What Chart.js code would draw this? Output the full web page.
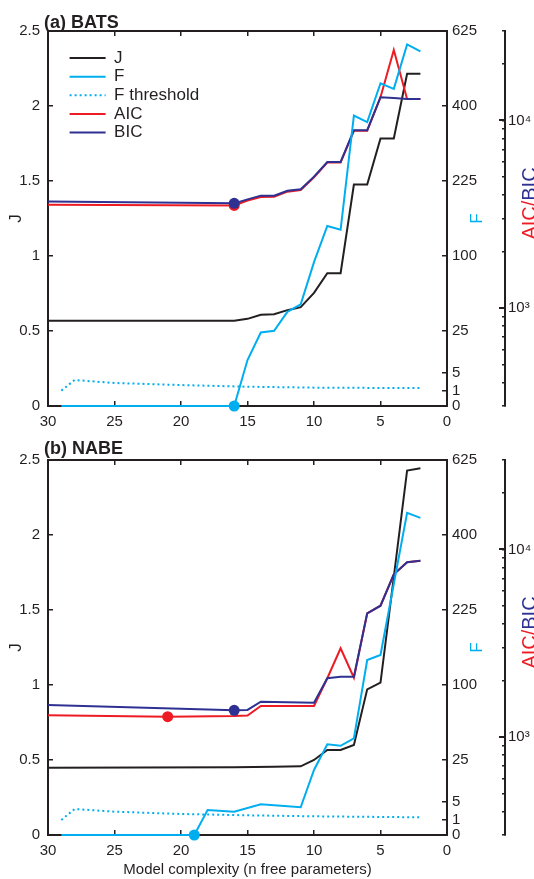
<!DOCTYPE html>
<html>
<head>
<meta charset="utf-8">
<script src="https://cdn.jsdelivr.net/npm/chart.js@4.4.1/dist/chart.umd.min.js"></script>
<style>
  body { margin: 0; background: #fff; }
  .panel { position: relative; width: 534px; }
  #wrapA { height: 430px; }
  #wrapB { height: 449px; }
</style>
</head>
<body>
<div class="panel" id="wrapA"><canvas id="chartA"></canvas></div>
<div class="panel" id="wrapB"><canvas id="chartB"></canvas></div>
<script>
const INK = '#231f20'
const CYAN = '#00aeef'
const RED = '#ed1c24'
const NAVY = '#2e3192'
const FONT = "'Liberation Sans', Arial, sans-serif"

// (a) BATS - model complexity n and values
const nJA = [30, 16, 15, 14, 13, 12, 11, 10, 9, 8, 7, 6, 5, 4, 3, 2]
const jA = [0.568, 0.568, 0.581, 0.608, 0.612, 0.639, 0.659, 0.754, 0.885, 0.885, 1.476, 1.476, 1.784, 1.784, 2.215, 2.215]
const nFA = [29, 16, 15, 14, 13, 12, 11, 10, 9, 8, 7, 6, 5, 4, 3, 2]
const fA = [0, 0, 9.4, 24, 25.1, 39.4, 45.9, 92, 144, 138, 375, 358, 463, 447, 581, 559]
const nThA = [29, 28, 25, 20, 15, 10, 5, 2]
const thA = [1.05, 3.0, 2.35, 1.95, 1.65, 1.5, 1.45, 1.43]
const nAicA = [30, 16, 15, 14, 13, 12, 11, 10, 9, 8, 7, 6, 5, 4, 3, 2]
const aicA = [3557, 3522, 3740, 3910, 3920, 4170, 4250, 4980, 5960, 5960, 8800, 8800, 13300, 23770, 13020, 13020]
const nBicA = [30, 16, 15, 14, 13, 12, 11, 10, 9, 8, 7, 6, 5, 4, 3, 2]
const bicA = [3700, 3614, 3796, 3972, 3972, 4218, 4295, 5015, 6004, 6004, 8870, 8870, 13300, 13180, 13020, 13020]

// (b) NABE
const nJB = [30, 16, 13, 11, 10, 9, 8, 7, 6, 5, 4, 3, 2]
const jB = [0.449, 0.451, 0.455, 0.458, 0.5, 0.567, 0.567, 0.6, 0.971, 1.016, 1.72, 2.43, 2.445]
const nFB = [29, 19, 18, 16, 14, 11, 10, 9, 8, 7, 6, 5, 4, 3, 2]
const fB = [0, 0, 2.78, 2.42, 4.19, 3.41, 18.8, 36.6, 35.4, 41.5, 136, 144, 280, 461, 447]
const nThB = [29, 28, 25, 20, 15, 10, 5, 2]
const thB = [1.0, 3.0, 2.42, 1.96, 1.72, 1.55, 1.45, 1.39]
const nAicB = [30, 21, 16, 15, 14, 10, 9, 8, 7, 6, 5, 4, 3, 2]
const aicB = [1304, 1283, 1292, 1300, 1462, 1462, 2056, 2971, 2070, 4565, 5010, 7370, 8540, 8710]
const nBicB = [30, 16, 15, 14, 10, 9, 8, 7, 6, 5, 4, 3, 2]
const bicB = [1479, 1387, 1393, 1542, 1524, 2056, 2097, 2097, 4565, 5010, 7370, 8540, 8710]

// marked minima (n)
const marksA = { f: 16, aic: 16, bic: 16 }
const marksB = { f: 19, aic: 21, bic: 16 }

// tick values
const fTicks = [0, 1, 5, 25, 100, 225, 400, 625]
const aicTicks = [300, 400, 500, 600, 700, 800, 900, 1000, 2000, 3000, 4000, 5000, 6000, 7000, 8000, 9000, 10000, 20000, 30000]
const aicLabels = { 1000: '10³', 10000: '10⁴' }

// square-root axis for F
class SqrtScale extends Chart.LinearScale {
  configure() {
    super.configure()
    this._startValue = Math.sqrt(this.min)
    this._valueRange = Math.sqrt(this.max) - Math.sqrt(this.min)
  }
  getPixelForValue(value) {
    if (value === null) return NaN
    return this.getPixelForDecimal((Math.sqrt(value) - this._startValue) / this._valueRange)
  }
  getValueForPixel(pixel) {
    const s = this._startValue + this.getDecimalForPixel(pixel) * this._valueRange
    return s * s
  }
}
SqrtScale.id = 'sqrt'
SqrtScale.defaults = Chart.LinearScale.defaults
Chart.register(SqrtScale)

const pts = (xs, ys) => xs.map((x, i) => ({ x, y: ys[i] }))
const dots = (xs, at) => xs.map(x => x === at ? 5.5 : 0)

function rotatedText(ctx, parts, x, y) {
  ctx.save()
  ctx.translate(x, y)
  ctx.rotate(-Math.PI / 2)
  ctx.textBaseline = 'middle'
  ctx.textAlign = 'left'
  const total = parts.reduce((w, p) => w + ctx.measureText(p[0]).width, 0)
  let cx = -total / 2
  parts.forEach(p => {
    ctx.fillStyle = p[1]
    ctx.fillText(p[0], cx, 0)
    cx += ctx.measureText(p[0]).width
  })
  ctx.restore()
}

const panelText = {
  id: 'panelText',
  afterLayout(chart) {
    // move the legend inside the plot, below the top axis
    if (chart.legend && chart.options.plugins.legend.display) {
      chart.legend.left += 20
      chart.legend.top += 48
    }
  },
  afterDraw(chart, args, opts) {
    const { ctx, chartArea: a } = chart
    const yF = chart.scales.yF
    const yA = chart.scales.yA
    const mid = (a.top + a.bottom) / 2
    ctx.save()
    ctx.font = `bold 18px ${FONT}`
    ctx.fillStyle = INK
    ctx.textAlign = 'left'
    ctx.textBaseline = 'alphabetic'
    ctx.fillText(opts.title, 44, opts.titleY)

    ctx.font = `17px ${FONT}`
    rotatedText(ctx, [['J', INK]], 16, mid)
    rotatedText(ctx, [['F', CYAN]], yF.left + 30, mid)
    ctx.font = `20px ${FONT}`
    rotatedText(ctx, [['AIC/', RED], ['BIC', NAVY]], 530, mid - 15)

    // longer major ticks on the AIC/BIC axis
    ctx.strokeStyle = INK
    ctx.lineWidth = 2
    yA.ticks.forEach(t => {
      if (!aicLabels[t.value]) return
      const py = Math.round(yA.getPixelForValue(t.value))
      ctx.beginPath()
      ctx.moveTo(yA.left - 6, py)
      ctx.lineTo(yA.left, py)
      ctx.stroke()
    })
    ctx.restore()
  }
}

function makeDatasets(nJ, j, nF, f, nTh, th, nAic, aic, nBic, bic, marks) {
  return [
    { label: 'J', data: pts(nJ, j), yAxisID: 'y', borderColor: INK, order: 3 },
    { label: 'F', data: pts(nF, f), yAxisID: 'yF', borderColor: CYAN,
      pointRadius: dots(nF, marks.f), pointBackgroundColor: CYAN, order: 0 },
    { label: 'F threshold', data: pts(nTh, th), yAxisID: 'yF', borderColor: CYAN,
      borderDash: [2, 3], order: 0 },
    { label: 'AIC', data: pts(nAic, aic), yAxisID: 'yA', borderColor: RED,
      pointRadius: dots(nAic, marks.aic), pointBackgroundColor: RED, order: 2 },
    { label: 'BIC', data: pts(nBic, bic), yAxisID: 'yA', borderColor: NAVY,
      pointRadius: dots(nBic, marks.bic), pointBackgroundColor: NAVY, order: 1 }
  ]
}

function legendLabels(chart) {
  const items = Chart.defaults.plugins.legend.labels.generateLabels(chart)
  return items.map(item => {
    const ds = chart.data.datasets[item.datasetIndex]
    item.strokeStyle = ds.borderColor
    item.lineWidth = 2
    item.lineDash = ds.borderDash || []
    return item
  })
}

const tickFont = { family: FONT, size: 15 }
const axisGrid = (len) => ({ drawOnChartArea: false, tickLength: len, color: INK, lineWidth: 1.5 })
const axisBorder = { color: INK, width: 2 }

function makeOptions(top, bottom, showLegend, title, titleY, xTitle) {
  return {
    responsive: true,
    maintainAspectRatio: false,
    animation: false,
    layout: { padding: 0 },
    datasets: { line: { clip: false, tension: 0, borderWidth: 2, pointRadius: 0, pointBorderWidth: 0, pointHoverRadius: 0 } },
    plugins: {
      tooltip: { enabled: false },
      legend: {
        display: showLegend,
        position: 'chartArea',
        align: 'start',
        labels: {
          font: { family: FONT, size: 17 },
          color: INK,
          usePointStyle: true,
          pointStyle: 'line',
          pointStyleWidth: 36,
          padding: 1.6,
          generateLabels: legendLabels,
          sort: (a, b) => a.datasetIndex - b.datasetIndex
        }
      },
      panelText: { title, titleY }
    },
    scales: {
      x: {
        type: 'linear', position: 'bottom', reverse: true, min: 0, max: 30,
        ticks: { stepSize: 5, font: tickFont, color: INK, padding: 12, maxRotation: 0 },
        grid: axisGrid(-5), border: axisBorder,
        title: { display: !!xTitle, text: xTitle, font: tickFont, color: INK, padding: 0 },
        afterFit: s => { s.height = bottom }
      },
      xTop: {
        type: 'linear', position: 'top', reverse: true, min: 0, max: 30,
        ticks: { stepSize: 5, display: false },
        grid: axisGrid(-5), border: axisBorder,
        afterFit: s => { s.height = top }
      },
      y: {
        type: 'linear', position: 'left', min: 0, max: 2.5,
        ticks: { stepSize: 0.5, font: tickFont, color: INK, padding: 13, callback: v => String(v) },
        grid: axisGrid(-5), border: axisBorder,
        afterFit: s => { s.width = 48 }
      },
      yF: {
        type: 'sqrt', position: 'right', weight: 0, min: 0, max: 625,
        afterBuildTicks: s => { s.ticks = fTicks.map(v => ({ value: v })) },
        ticks: { font: tickFont, color: INK, padding: 10, autoSkip: false, callback: v => String(v) },
        grid: axisGrid(-5), border: axisBorder,
        afterFit: s => { s.width = 58 }
      },
      yA: {
        type: 'logarithmic', position: 'right', weight: 1, min: 300, max: 30000,
        afterBuildTicks: s => { s.ticks = aicTicks.map(v => ({ value: v, major: !!aicLabels[v] })) },
        ticks: { font: tickFont, color: INK, padding: 6, autoSkip: false, callback: v => aicLabels[v] || '' },
        grid: axisGrid(-3), border: axisBorder,
        afterFit: s => { s.width = 29 }
      }
    }
  }
}

const chartA = new Chart(document.getElementById('chartA'), {
  type: 'line',
  data: { datasets: makeDatasets(nJA, jA, nFA, fA, nThA, thA, nAicA, aicA, nBicA, bicA, marksA) },
  options: makeOptions(31, 24, true, '(a) BATS', 28, ''),
  plugins: [panelText]
})

const chartB = new Chart(document.getElementById('chartB'), {
  type: 'line',
  data: { datasets: makeDatasets(nJB, jB, nFB, fB, nThB, thB, nAicB, aicB, nBicB, bicB, marksB) },
  options: makeOptions(30, 44, false, '(b) NABE', 24, 'Model complexity (n free parameters)'),
  plugins: [panelText]
})
</script>
</body>
</html>
